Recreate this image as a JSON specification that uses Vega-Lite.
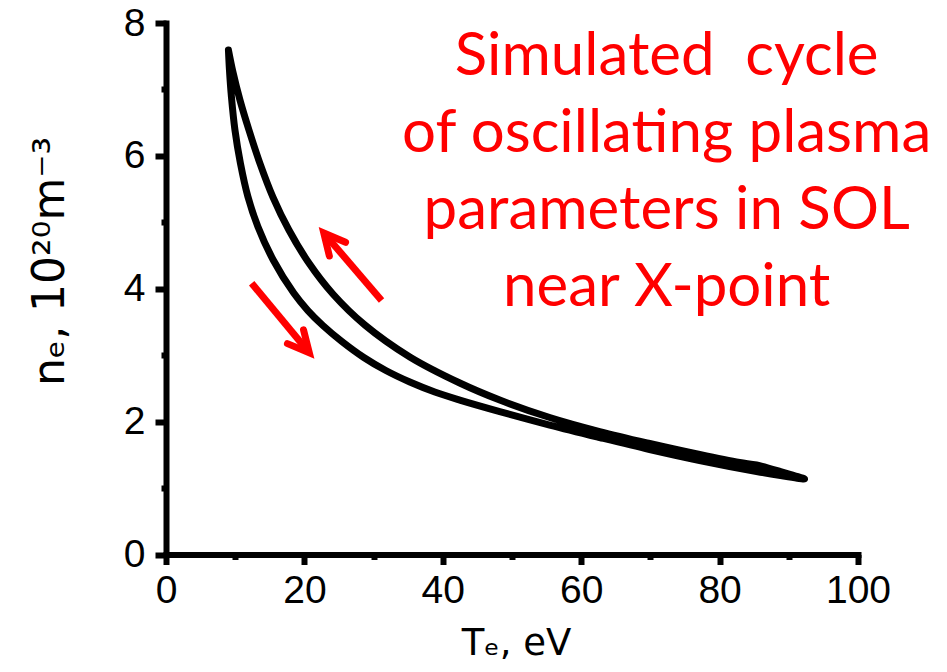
{
  "$schema": "https://vega.github.io/schema/vega-lite/v6.json",
  "width": 692,
  "height": 531.5,
  "autosize": {"type": "none"},
  "padding": {"left": 166, "top": 23, "right": 89, "bottom": 117.5},
  "background": "white",
  "config": {"view": {"stroke": null}, "axis": {"grid": false}},
  "datasets": {
    "loop": [
      {"i": 0, "T": 9.025, "n": 7.593},
      {"i": 1, "T": 9.17, "n": 7.292},
      {"i": 2, "T": 9.458, "n": 6.886},
      {"i": 3, "T": 9.964, "n": 6.389},
      {"i": 4, "T": 10.758, "n": 5.888},
      {"i": 5, "T": 11.841, "n": 5.385},
      {"i": 6, "T": 13.285, "n": 4.934},
      {"i": 7, "T": 15.495, "n": 4.433},
      {"i": 8, "T": 18.484, "n": 3.931},
      {"i": 9, "T": 20.505, "n": 3.672},
      {"i": 10, "T": 22.671, "n": 3.447},
      {"i": 11, "T": 25.415, "n": 3.206},
      {"i": 12, "T": 28.592, "n": 2.965},
      {"i": 13, "T": 31.769, "n": 2.769},
      {"i": 14, "T": 35.235, "n": 2.596},
      {"i": 15, "T": 38.845, "n": 2.446},
      {"i": 16, "T": 42.455, "n": 2.325},
      {"i": 17, "T": 48.231, "n": 2.152},
      {"i": 18, "T": 55.451, "n": 1.949},
      {"i": 19, "T": 62.671, "n": 1.761},
      {"i": 20, "T": 69.892, "n": 1.58},
      {"i": 21, "T": 77.112, "n": 1.415},
      {"i": 22, "T": 85.343, "n": 1.249},
      {"i": 23, "T": 88.809, "n": 1.189},
      {"i": 24, "T": 92.274, "n": 1.136},
      {"i": 25, "T": 88.809, "n": 1.249},
      {"i": 26, "T": 85.343, "n": 1.347},
      {"i": 27, "T": 82.888, "n": 1.385},
      {"i": 28, "T": 77.112, "n": 1.505},
      {"i": 29, "T": 69.892, "n": 1.671},
      {"i": 30, "T": 62.671, "n": 1.851},
      {"i": 31, "T": 55.451, "n": 2.062},
      {"i": 32, "T": 48.231, "n": 2.325},
      {"i": 33, "T": 42.455, "n": 2.581},
      {"i": 34, "T": 35.235, "n": 2.973},
      {"i": 35, "T": 28.736, "n": 3.454},
      {"i": 36, "T": 24.116, "n": 3.921},
      {"i": 37, "T": 20.65, "n": 4.387},
      {"i": 38, "T": 17.762, "n": 4.884},
      {"i": 39, "T": 15.451, "n": 5.38},
      {"i": 40, "T": 13.574, "n": 5.888},
      {"i": 41, "T": 11.986, "n": 6.389},
      {"i": 42, "T": 10.686, "n": 6.841},
      {"i": 43, "T": 9.675, "n": 7.262},
      {"i": 44, "T": 9.025, "n": 7.593}
    ],
    "arrows": [
      {"dir": "up", "T0": 31.15, "n0": 3.823, "T1": 22.8, "n1": 4.84},
      {"dir": "down", "T0": 12.38, "n0": 4.082, "T1": 20.71, "n1": 3.036}
    ]
  },
  "layer": [
    {
      "data": {"name": "loop"},
      "mark": {"type": "line", "color": "black", "strokeWidth": 7, "strokeCap": "round", "strokeJoin": "round", "interpolate": "catmull-rom"},
      "encoding": {
        "x": {
          "field": "T", "type": "quantitative",
          "scale": {"domain": [0, 100], "nice": false, "zero": false},
          "axis": {
            "orient": "bottom",
            "values": [0, 20, 40, 60, 80, 100],
            "tickSize": 10, "tickWidth": 6, "tickColor": "black",
            "domainColor": "black", "domainWidth": 6, "domainCap": "square",
            "labelFont": "Liberation Sans", "labelFontSize": 39, "labelColor": "black",
            "labelPadding": 7, "labelFlush": false, "labelOverlap": false,
            "title": "Tₑ, eV", "titleFont": "DejaVu Sans", "titleFontSize": 37,
            "titleFontWeight": "normal", "titleColor": "black",
            "titleBaseline": "alphabetic", "titleX": 350, "titleY": 100
          }
        },
        "y": {
          "field": "n", "type": "quantitative",
          "scale": {"domain": [0, 8], "nice": false, "zero": false},
          "axis": {
            "orient": "left",
            "values": [0, 2, 4, 6, 8],
            "tickSize": 11, "tickWidth": 6, "tickColor": "black",
            "domainColor": "black", "domainWidth": 6, "domainCap": "square",
            "labelFont": "Liberation Sans", "labelFontSize": 39, "labelColor": "black",
            "labelPadding": 10, "labelFlush": false, "labelOverlap": false,
            "title": "nₑ, 10²⁰m⁻³", "titleFont": "DejaVu Sans", "titleFontSize": 44,
            "titleFontWeight": "normal", "titleColor": "black",
            "titleBaseline": "alphabetic", "titleX": -103, "titleY": 238
          }
        },
        "order": {"field": "i", "type": "quantitative"}
      }
    },
    {
      "data": {"name": "arrows"},
      "mark": {"type": "rule", "color": "#ff0000", "strokeWidth": 7, "strokeCap": "butt"},
      "encoding": {
        "x": {
          "field": "T0", "type": "quantitative",
          "scale": {"domain": [0, 100], "nice": false, "zero": false},
          "axis": {
            "orient": "bottom", "values": [10, 30, 50, 70, 90],
            "tickSize": 5, "tickWidth": 6, "tickColor": "black",
            "labels": false, "domain": false, "title": null
          }
        },
        "y": {
          "field": "n0", "type": "quantitative",
          "scale": {"domain": [0, 8], "nice": false, "zero": false},
          "axis": {
            "orient": "left", "values": [1, 3, 5, 7],
            "tickSize": 5, "tickWidth": 6, "tickColor": "black",
            "labels": false, "domain": false, "title": null
          }
        },
        "x2": {"field": "T1"},
        "y2": {"field": "n1"}
      }
    },
    {
      "data": {"name": "arrows"},
      "mark": {"type": "point", "shape": "M-0.5,1L0,0L0.5,1", "filled": false, "color": "#ff0000", "strokeWidth": 7, "strokeCap": "round", "strokeJoin": "miter", "size": 1800, "opacity": 1},
      "encoding": {
        "x": {"field": "T1", "type": "quantitative", "scale": {"domain": [0, 100], "nice": false, "zero": false}, "axis": null},
        "y": {"field": "n1", "type": "quantitative", "scale": {"domain": [0, 8], "nice": false, "zero": false}, "axis": null},
        "angle": {"field": "dir", "type": "nominal", "scale": {"domain": ["up", "down"], "range": [319.8, 139.3]}, "legend": null}
      }
    },
    {
      "data": {"values": [{"label": "annotation"}]},
      "mark": {
        "type": "text", "color": "#ff0000", "font": "Lato", "fontSize": 60,
        "align": "center", "baseline": "alphabetic", "lineHeight": 77
      },
      "encoding": {
        "x": {"datum": 72.35, "type": "quantitative", "scale": {"domain": [0, 100], "nice": false, "zero": false}, "axis": null},
        "y": {"datum": 7.217, "type": "quantitative", "scale": {"domain": [0, 8], "nice": false, "zero": false}, "axis": null},
        "text": {"value": ["Simulated\u00a0 cycle", "of oscillating plasma", "parameters in SOL", "near X-point"]}
      }
    }
  ],
  "resolve": {"axis": {"x": "independent", "y": "independent"}}
}
